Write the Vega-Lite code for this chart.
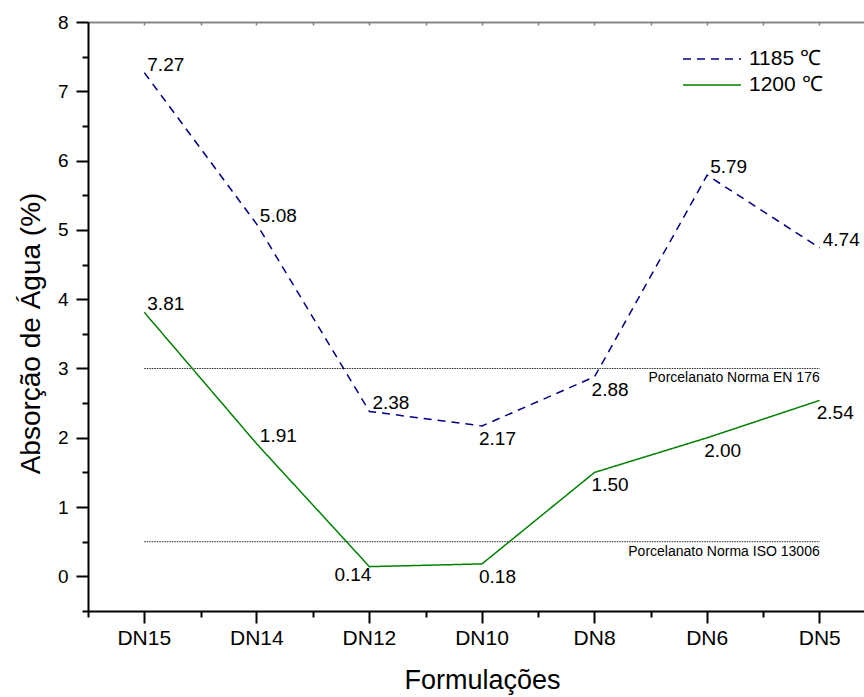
{
  "$schema": "https://vega.github.io/schema/vega-lite/v6.json",
  "autosize": "none",
  "width": 776,
  "height": 589,
  "padding": {"left": 88, "top": 22, "right": 0, "bottom": 86},
  "background": "white",
  "config": {
    "view": {"stroke": null},
    "font": "Liberation Sans",
    "axis": {"grid": false, "labelFont": "Liberation Sans", "titleFont": "Liberation Sans", "titleFontWeight": "normal", "labelColor": "black", "titleColor": "black"}
  },
  "datasets": {
    "abs": [
      {"Formulacao": "DN15", "Serie": "1185 ℃", "Valor": 7.27},
      {"Formulacao": "DN14", "Serie": "1185 ℃", "Valor": 5.08},
      {"Formulacao": "DN12", "Serie": "1185 ℃", "Valor": 2.38},
      {"Formulacao": "DN10", "Serie": "1185 ℃", "Valor": 2.17},
      {"Formulacao": "DN8", "Serie": "1185 ℃", "Valor": 2.88},
      {"Formulacao": "DN6", "Serie": "1185 ℃", "Valor": 5.79},
      {"Formulacao": "DN5", "Serie": "1185 ℃", "Valor": 4.74},
      {"Formulacao": "DN15", "Serie": "1200 ℃", "Valor": 3.81},
      {"Formulacao": "DN14", "Serie": "1200 ℃", "Valor": 1.91},
      {"Formulacao": "DN12", "Serie": "1200 ℃", "Valor": 0.14},
      {"Formulacao": "DN10", "Serie": "1200 ℃", "Valor": 0.18},
      {"Formulacao": "DN8", "Serie": "1200 ℃", "Valor": 1.50},
      {"Formulacao": "DN6", "Serie": "1200 ℃", "Valor": 2.00},
      {"Formulacao": "DN5", "Serie": "1200 ℃", "Valor": 2.54}
    ],
    "normas": [
      {"Formulacao": "DN15", "Norma": "Porcelanato Norma EN 176", "Limite": 3},
      {"Formulacao": "DN5", "Norma": "Porcelanato Norma EN 176", "Limite": 3},
      {"Formulacao": "DN15", "Norma": "Porcelanato Norma ISO 13006", "Limite": 0.5},
      {"Formulacao": "DN5", "Norma": "Porcelanato Norma ISO 13006", "Limite": 0.5}
    ]
  },
  "resolve": {"axis": {"x": "independent", "y": "independent"}},
  "layer": [
    {
      "data": {"name": "normas"},
      "mark": {"type": "line", "color": "#222222", "strokeWidth": 1, "strokeDash": [1.5, 1]},
      "encoding": {
        "x": {"field": "Formulacao", "type": "nominal", "bandPosition": 0.5,
          "scale": {"type": "band", "domain": ["DN15", "DN14", "DN12", "DN10", "DN8", "DN6", "DN5"], "range": [0, 788], "paddingInner": 0, "paddingOuter": 0},
          "axis": {"orient": "bottom", "title": "Formulações", "titleFontSize": 27, "titlePadding": 19, "titleX": 394, "labelFontSize": 21, "labelPadding": 4, "tickSize": 12, "tickWidth": 2, "tickColor": "black", "domainColor": "black", "domainWidth": 2, "labelAngle": 0}},
        "y": {"field": "Limite", "type": "quantitative",
          "scale": {"domain": [-0.5, 8], "nice": false, "zero": false},
          "axis": {"orient": "left", "title": "Absorção de Água (%)", "titleFontSize": 28, "titlePadding": 12, "titleY": 311, "labelFontSize": 19, "labelPadding": 8, "tickSize": 12, "tickWidth": 2, "tickColor": "black", "domainColor": "black", "domainWidth": 2, "values": [0, 1, 2, 3, 4, 5, 6, 7, 8], "format": "d"}},
        "detail": {"field": "Norma"}
      }
    },
    {
      "data": {"name": "normas"},
      "transform": [{"filter": "datum.Formulacao === 'DN5'"}],
      "mark": {"type": "text", "align": "right", "baseline": "top", "dy": 3, "fontSize": 14, "color": "black"},
      "encoding": {
        "x": {"field": "Formulacao", "type": "nominal", "bandPosition": 0.5,
          "axis": {"orient": "bottom", "labels": false, "title": null, "domain": false, "tickBand": "extent", "tickSize": 6, "tickWidth": 2, "tickColor": "black"}},
        "y": {"field": "Limite", "type": "quantitative",
          "axis": {"orient": "left", "labels": false, "title": null, "domain": false, "tickSize": 6, "tickWidth": 2, "tickColor": "black", "values": [-0.5, 0.5, 1.5, 2.5, 3.5, 4.5, 5.5, 6.5, 7.5]}},
        "text": {"field": "Norma"}
      }
    },
    {
      "data": {"name": "abs"},
      "mark": {"type": "line", "strokeWidth": 1.5},
      "encoding": {
        "x": {"field": "Formulacao", "type": "nominal", "bandPosition": 0.5,
          "axis": {"orient": "top", "labels": false, "title": null, "domainColor": "#808080", "domainWidth": 1.5, "tickSize": -3, "tickWidth": 1.5, "tickColor": "#808080"}},
        "y": {"field": "Valor", "type": "quantitative", "axis": null},
        "color": {"field": "Serie", "type": "nominal",
          "scale": {"domain": ["1185 ℃", "1200 ℃"], "range": ["#000080", "#008000"]},
          "legend": {"orient": "none", "legendX": 594, "legendY": 24, "title": null, "symbolType": "stroke", "symbolSize": 3364, "symbolStrokeWidth": 1.5, "clipHeight": 26, "rowPadding": 0, "padding": 0, "labelFontSize": 21, "labelOffset": 7, "labelFont": "Liberation Sans", "labelColor": "black"}},
        "strokeDash": {"field": "Serie", "type": "nominal",
          "scale": {"domain": ["1185 ℃", "1200 ℃"], "range": [[8, 6], [1, 0]]},
          "legend": {"orient": "none", "legendX": 594, "legendY": 24, "title": null, "symbolType": "stroke", "symbolSize": 3364, "symbolStrokeWidth": 1.5, "clipHeight": 26, "rowPadding": 0, "padding": 0, "labelFontSize": 21, "labelOffset": 7, "labelFont": "Liberation Sans", "labelColor": "black"}}
      }
    },
    {
      "data": {"name": "abs"},
      "transform": [{"filter": "(datum.Serie === '1185 ℃' && indexof(['DN15','DN14','DN12','DN6','DN5'], datum.Formulacao) >= 0) || (datum.Serie === '1200 ℃' && indexof(['DN15','DN14'], datum.Formulacao) >= 0)"}],
      "mark": {"type": "text", "align": "left", "baseline": "middle", "dx": 3, "dy": -8, "fontSize": 19, "color": "black"},
      "encoding": {
        "x": {"field": "Formulacao", "type": "nominal", "bandPosition": 0.5,
          "axis": {"orient": "top", "labels": false, "title": null, "domainColor": "#808080", "domainWidth": 1.5, "tickBand": "extent", "tickSize": -3, "tickWidth": 1.5, "tickColor": "#808080"}},
        "y": {"field": "Valor", "type": "quantitative", "axis": null},
        "text": {"field": "Valor", "type": "quantitative", "format": ".2f"}
      }
    },
    {
      "data": {"name": "abs"},
      "transform": [{"filter": "(datum.Serie === '1185 ℃' && indexof(['DN10','DN8'], datum.Formulacao) >= 0) || (datum.Serie === '1200 ℃' && indexof(['DN10','DN8','DN6','DN5'], datum.Formulacao) >= 0)"}],
      "mark": {"type": "text", "align": "left", "baseline": "middle", "dx": -3, "dy": 13, "fontSize": 19, "color": "black"},
      "encoding": {
        "x": {"field": "Formulacao", "type": "nominal", "bandPosition": 0.5, "axis": null},
        "y": {"field": "Valor", "type": "quantitative", "axis": null},
        "text": {"field": "Valor", "type": "quantitative", "format": ".2f"}
      }
    },
    {
      "data": {"name": "abs"},
      "transform": [{"filter": "datum.Serie === '1200 ℃' && datum.Formulacao === 'DN12'"}],
      "mark": {"type": "text", "align": "right", "baseline": "middle", "dx": 2, "dy": 8, "fontSize": 19, "color": "black"},
      "encoding": {
        "x": {"field": "Formulacao", "type": "nominal", "bandPosition": 0.5, "axis": null},
        "y": {"field": "Valor", "type": "quantitative", "axis": null},
        "text": {"field": "Valor", "type": "quantitative", "format": ".2f"}
      }
    }
  ]
}
